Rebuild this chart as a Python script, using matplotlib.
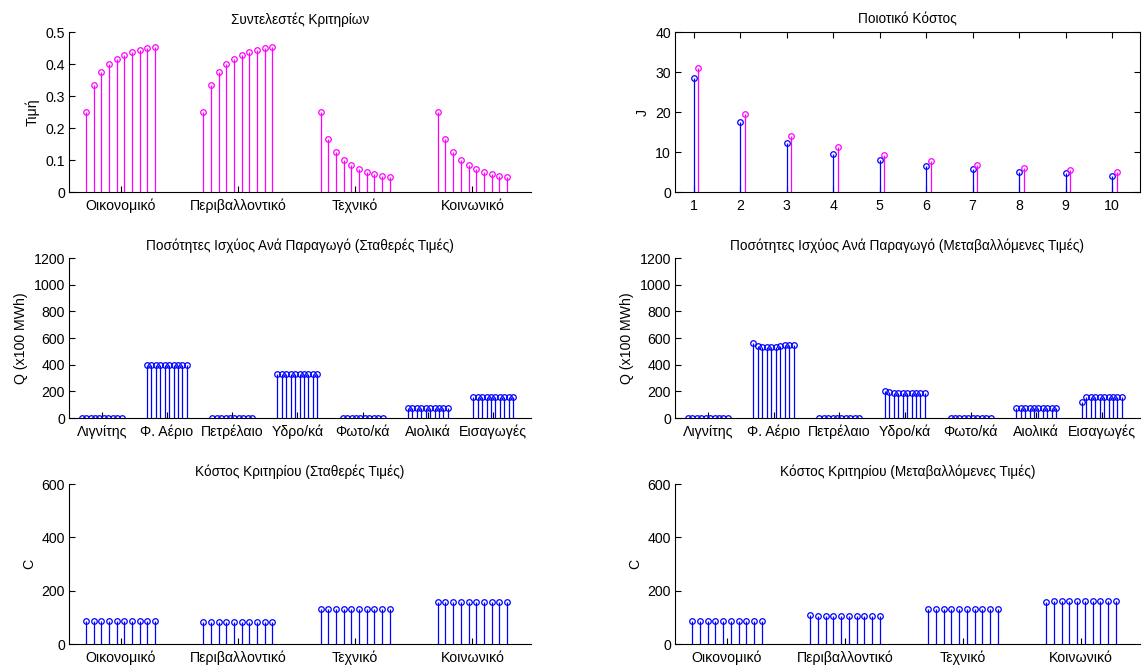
import numpy as np
import matplotlib
matplotlib.use("Agg")
import matplotlib.pyplot as plt

plt.rcParams['font.family'] = ['Liberation Sans', 'DejaVu Sans']

# ---- data ----
criteria = ['Οικονομικό', 'Περιβαλλοντικό', 'Τεχνικό', 'Κοινωνικό']
producers = ['Λιγνίτης', 'Φ. Αέριο', 'Πετρέλαιο', 'Υδρο/κά', 'Φωτο/κά', 'Αιολικά', 'Εισαγωγές']
iterations = list(range(1, 11))

coef_econ = [0.25, 0.3333, 0.375, 0.4, 0.4167, 0.4286, 0.4375, 0.4444, 0.45, 0.4545]
coef_env = [0.25, 0.3333, 0.375, 0.4, 0.4167, 0.4286, 0.4375, 0.4444, 0.45, 0.4545]
coef_tech = [0.25, 0.1667, 0.125, 0.1, 0.0833, 0.0714, 0.0625, 0.0556, 0.05, 0.0455]
coef_soc = [0.25, 0.1667, 0.125, 0.1, 0.0833, 0.0714, 0.0625, 0.0556, 0.05, 0.0455]

J_fixed = [28.4, 17.4, 12.2, 9.5, 7.9, 6.5, 5.7, 5.1, 4.7, 4.1]
J_var = [30.9, 19.5, 14.1, 11.2, 9.2, 7.8, 6.8, 6.0, 5.4, 4.9]

Q_fixed_lignite = [3, 3, 3, 3, 3, 3, 3, 3, 3, 3]
Q_fixed_gas = [395, 395, 395, 395, 395, 395, 395, 395, 395, 395]
Q_fixed_oil = [3, 3, 3, 3, 3, 3, 3, 3, 3, 3]
Q_fixed_hydro = [328, 328, 328, 328, 328, 328, 328, 328, 328, 328]
Q_fixed_pv = [3, 3, 3, 3, 3, 3, 3, 3, 3, 3]
Q_fixed_wind = [78, 78, 78, 78, 78, 78, 78, 78, 78, 78]
Q_fixed_imports = [155, 155, 155, 155, 155, 155, 155, 155, 155, 155]

Q_var_lignite = [2, 2, 2, 2, 2, 2, 2, 2, 2, 2]
Q_var_gas = [562, 538, 534, 534, 534, 534, 543, 546, 546, 546]
Q_var_oil = [2, 2, 2, 2, 2, 2, 2, 2, 2, 2]
Q_var_hydro = [200, 193, 185, 185, 185, 185, 185, 185, 185, 185]
Q_var_pv = [2, 2, 2, 2, 2, 2, 2, 2, 2, 2]
Q_var_wind = [78, 78, 78, 78, 78, 78, 78, 78, 78, 78]
Q_var_imports = [118, 155, 155, 155, 155, 155, 155, 155, 155, 155]

C_fixed_econ = [85, 85, 85, 85, 85, 85, 85, 85, 85, 85]
C_fixed_env = [81, 81, 81, 81, 81, 81, 81, 81, 81, 81]
C_fixed_tech = [130, 130, 130, 130, 130, 130, 130, 130, 130, 130]
C_fixed_soc = [157, 157, 157, 157, 157, 157, 157, 157, 157, 157]

C_var_econ = [85, 85, 85, 85, 85, 85, 85, 85, 85, 85]
C_var_env = [110, 105, 105, 105, 105, 105, 105, 105, 105, 105]
C_var_tech = [133, 133, 133, 133, 133, 133, 133, 133, 133, 133]
C_var_soc = [157, 162, 162, 162, 162, 162, 162, 162, 162, 162]

BLUE = (0, 0, 1)
MAGENTA = (1, 0, 1)
TICK_FS = 10.2
TITLE_FS = 9.8
LABEL_FS = 10.2


def stems(ax, x, y, color):
    x = np.asarray(x, dtype=float)
    y = np.asarray(y, dtype=float)
    ax.vlines(x, 0, y, colors=[color], linewidth=0.9)
    ax.plot(x, y, linestyle='none', marker='o', markersize=4.0,
            markerfacecolor='none', markeredgecolor=color, markeredgewidth=0.9)


def grouped(ax, groups, half_width, color):
    n = len(groups[0])
    offs = np.linspace(-half_width, half_width, n)
    for i, g in enumerate(groups):
        stems(ax, i + 1 + offs, g, color)


def style_open(ax):
    for s in ('top', 'right'):
        ax.spines[s].set_visible(False)
    ax.tick_params(direction='in', length=4, width=0.8, labelsize=TICK_FS)
    ax.tick_params(axis='x', pad=5)
    ax.tick_params(axis='y', pad=3)


fig = plt.figure(figsize=(11.42, 6.66), dpi=100)
W, H = 1142, 666


def make_axes(x0, x1, ytop, ybot):
    return fig.add_axes([x0 / W, (H - ybot) / H, (x1 - x0) / W, (ybot - ytop) / H])


colL = (69, 531)
colR = (675, 1140)
rows = [(32, 192), (258, 418), (484, 644)]

# Criteria coefficients
ax1 = make_axes(*colL, *rows[0])
grouped(ax1, [coef_econ, coef_env, coef_tech, coef_soc], 0.295, MAGENTA)
ax1.set_xlim(0.56, 4.5)
ax1.set_ylim(0, 0.5)
ax1.set_xticks(range(1, 5))
ax1.set_xticklabels(criteria)
ax1.set_yticks([0, 0.1, 0.2, 0.3, 0.4, 0.5])
ax1.set_yticklabels(['0', '0.1', '0.2', '0.3', '0.4', '0.5'])
ax1.set_ylabel('Τιμή', fontsize=LABEL_FS)
ax1.set_title('Συντελεστές Κριτηρίων', fontsize=TITLE_FS, pad=6)
style_open(ax1)

# Quality cost
ax2 = make_axes(*colR, *rows[0])
it = np.asarray(iterations, dtype=float)
stems(ax2, it, J_fixed, BLUE)
stems(ax2, it + 0.1, J_var, MAGENTA)
ax2.set_xlim(0.6, 10.6)
ax2.set_ylim(0, 40)
ax2.set_xticks(iterations)
ax2.set_yticks([0, 10, 20, 30, 40])
ax2.set_ylabel('J', fontsize=LABEL_FS)
ax2.set_title('Ποιοτικό Κόστος', fontsize=TITLE_FS, pad=6)
ax2.tick_params(direction='in', length=4, width=0.8, labelsize=TICK_FS,
                top=True, right=True)
ax2.tick_params(axis='x', pad=5)
ax2.tick_params(axis='y', pad=3)

# Power quantities, fixed prices
ax3 = make_axes(*colL, *rows[1])
grouped(ax3, [Q_fixed_lignite, Q_fixed_gas, Q_fixed_oil, Q_fixed_hydro,
              Q_fixed_pv, Q_fixed_wind, Q_fixed_imports], 0.305, BLUE)
ax3.set_xlim(0.5, 7.58)
ax3.set_ylim(0, 1200)
ax3.set_xticks(range(1, 8))
ax3.set_xticklabels(producers)
ax3.set_yticks(range(0, 1201, 200))
ax3.set_ylabel('Q (x100 MWh)', fontsize=LABEL_FS)
ax3.set_title('Ποσότητες Ισχύος Ανά Παραγωγό (Σταθερές Τιμές)', fontsize=TITLE_FS, pad=6)
style_open(ax3)

# Power quantities, varying prices
ax4 = make_axes(*colR, *rows[1])
grouped(ax4, [Q_var_lignite, Q_var_gas, Q_var_oil, Q_var_hydro,
              Q_var_pv, Q_var_wind, Q_var_imports], 0.305, BLUE)
ax4.set_xlim(0.5, 7.58)
ax4.set_ylim(0, 1200)
ax4.set_xticks(range(1, 8))
ax4.set_xticklabels(producers)
ax4.set_yticks(range(0, 1201, 200))
ax4.set_ylabel('Q (x100 MWh)', fontsize=LABEL_FS)
ax4.set_title('Ποσότητες Ισχύος Ανά Παραγωγό (Μεταβαλλόμενες Τιμές)', fontsize=TITLE_FS, pad=6)
style_open(ax4)

# Criterion cost, fixed prices
ax5 = make_axes(*colL, *rows[2])
grouped(ax5, [C_fixed_econ, C_fixed_env, C_fixed_tech, C_fixed_soc], 0.295, BLUE)
ax5.set_xlim(0.56, 4.5)
ax5.set_ylim(0, 600)
ax5.set_xticks(range(1, 5))
ax5.set_xticklabels(criteria)
ax5.set_yticks([0, 200, 400, 600])
ax5.set_ylabel('C', fontsize=LABEL_FS)
ax5.set_title('Κόστος Κριτηρίου (Σταθερές Τιμές)', fontsize=TITLE_FS, pad=6)
style_open(ax5)

# Criterion cost, varying prices
ax6 = make_axes(*colR, *rows[2])
grouped(ax6, [C_var_econ, C_var_env, C_var_tech, C_var_soc], 0.295, BLUE)
ax6.set_xlim(0.56, 4.5)
ax6.set_ylim(0, 600)
ax6.set_xticks(range(1, 5))
ax6.set_xticklabels(criteria)
ax6.set_yticks([0, 200, 400, 600])
ax6.set_ylabel('C', fontsize=LABEL_FS)
ax6.set_title('Κόστος Κριτηρίου (Μεταβαλλόμενες Τιμές)', fontsize=TITLE_FS, pad=6)
style_open(ax6)

for ax in fig.axes:
    for s in ax.spines.values():
        s.set_linewidth(0.8)

fig.savefig('out.png', dpi=100)
